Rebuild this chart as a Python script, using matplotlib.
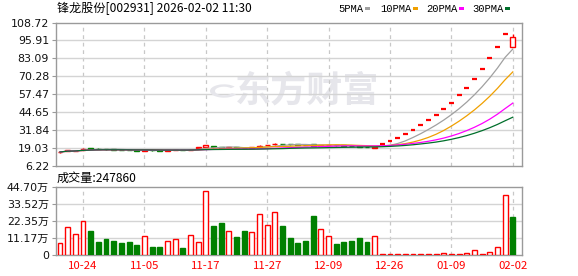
import numpy as np
import pandas as pd
import matplotlib
matplotlib.use('Agg')
import matplotlib.pyplot as plt
from matplotlib.patches import Rectangle, Wedge

# ---------------- data ----------------
title = "锋龙股份[002931] 2026-02-02 11:30"
opens = [15.6, 16.9, 16.7, 17.5, 18.6, 18.3, 18.0, 17.7, 17.5, 17.3,
         17.1, 16.9, 17.3, 17.0, 16.8, 17.1, 17.4, 17.3, 19.1, 19.3,
         20.3, 19.4, 18.9, 19.2, 18.9, 18.9, 19.7, 20.7, 21.5, 21.8,
         21.5, 21.3, 21.1, 21.4, 20.4, 20.8, 21.0, 20.6, 20.3, 20.0,
         19.6, 18.6, 21.4, 23.5, 26.2, 28.7, 31.8, 35.0, 38.5, 42.2,
         46.4, 51.2, 56.4, 62.1, 68.5, 75.2, 83.0, 91.4, 100.6, 90.9]
closes = [15.9, 17.1, 16.9, 18.4, 18.3, 18.0, 17.7, 17.5, 17.3, 17.1,
          16.9, 17.4, 17.0, 16.8, 17.1, 17.4, 17.2, 17.6, 19.4, 20.8,
          19.3, 18.9, 19.2, 18.9, 18.6, 19.2, 19.9, 20.9, 21.7, 21.5,
          21.3, 21.1, 20.9, 20.4, 20.9, 21.2, 20.6, 20.3, 20.0, 19.6,
          19.3, 19.5, 21.4, 23.5, 26.2, 28.7, 31.8, 35.0, 38.5, 42.2,
          46.4, 51.2, 56.4, 62.1, 68.5, 75.2, 83.0, 91.4, 100.6, 98.1]
highs = [16.3, 17.2, 17.0, 18.5, 18.7, 18.6, 18.1, 17.8, 17.6, 17.4,
         17.2, 17.5, 17.4, 17.1, 17.2, 17.5, 17.5, 17.7, 19.6, 21.0,
         20.5, 19.6, 19.4, 19.3, 19.0, 19.3, 20.6, 21.0, 22.6, 21.9,
         21.6, 21.4, 21.2, 21.6, 21.0, 21.3, 21.1, 20.7, 20.4, 20.1,
         19.7, 19.6, 21.4, 23.5, 26.2, 28.7, 31.8, 35.0, 38.5, 42.2,
         46.4, 51.2, 56.4, 62.1, 68.5, 75.2, 83.0, 91.4, 100.6, 100.5]
lows = [15.4, 16.8, 16.6, 17.4, 18.2, 17.9, 17.6, 17.4, 17.2, 17.0,
        16.8, 16.8, 16.9, 16.7, 16.7, 17.0, 17.1, 17.2, 19.0, 19.2,
        19.1, 18.8, 18.8, 18.8, 18.5, 18.8, 19.3, 20.6, 20.9, 21.4,
        21.2, 21.0, 20.8, 20.3, 20.3, 20.7, 20.5, 20.2, 19.9, 19.5,
        19.2, 18.5, 21.4, 23.5, 26.2, 28.7, 31.8, 35.0, 38.5, 42.2,
        46.4, 51.2, 56.4, 62.1, 68.5, 75.2, 83.0, 91.4, 100.6, 90.9]
volumes = [77000, 182000, 136000, 221000, 158000, 85000, 105000, 92000, 79000, 85000,
           66000, 123000, 53000, 53000, 90000, 103000, 46000, 129000, 85000, 419000,
           191000, 213000, 158000, 118000, 158000, 151000, 270000, 197000, 283000, 191000,
           112000, 79000, 92000, 256000, 169000, 123000, 72000, 85000, 92000, 112000,
           85000, 123000, 4000, 4000, 4000, 4000, 4000, 4000, 4000, 4000,
           11000, 4000, 4000, 11000, 33000, 4000, 20000, 50000, 394000, 247860]
vol_up = [1, 1, 1, 1, 0, 0, 0, 0, 0, 0,
          0, 1, 0, 0, 1, 1, 0, 1, 1, 1,
          0, 0, 1, 0, 0, 1, 1, 1, 1, 0,
          0, 0, 0, 0, 1, 1, 0, 0, 0, 0,
          0, 1, 1, 1, 1, 1, 1, 1, 1, 1,
          1, 1, 1, 1, 1, 1, 1, 1, 1, 0]
tick_idx = [3, 11, 19, 27, 35, 43, 51, 59]
tick_labels = ["10-24", "11-05", "11-17", "11-27", "12-09", "12-26", "01-09", "02-02"]
price_ticks = [6.22, 19.03, 31.84, 44.65, 57.47, 70.28, 83.09, 95.91, 108.72]
vol_ticks = [0, 111750, 223500, 335250, 447000]
vol_tick_labels = ["0", "11.17万", "22.35万", "33.52万", "44.70万"]
ma_periods = [5, 10, 20, 30]
ma_names = ["5PMA", "10PMA", "20PMA", "30PMA"]
ma_colors = ["#a0a0a0", "#f0a000", "#ff00ff", "#006f2b"]
last_vol_label = "成交量:247860"

# ---------------- figure ----------------
W, H = 578, 276
fig = plt.figure(figsize=(W / 100, H / 100), dpi=100)
fig.patch.set_facecolor('white')

def px_axes(x0, y0, x1, y1):
    return fig.add_axes([x0 / W, 1 - y1 / H, (x1 - x0) / W, (y1 - y0) / H])

ax = px_axes(56, 22.5, 522, 165.5)
axv = px_axes(56, 187, 522, 255)

RED = "#ff0000"
GREEN = "#008000"
GRID = "#d4d4d4"
VGRID = "#c8c8c8"
BORDER = "#9a9a9a"
WM = "#e6e6eb"
CJK = ['Noto Sans CJK SC', 'DejaVu Sans']
NUM = ['DejaVu Sans', 'Noto Sans CJK SC']

n = len(closes)
x = np.arange(n)
xlim = (-0.52, 60.2)

for a in (ax, axv):
    a.set_xlim(*xlim)
    for s in a.spines.values():
        s.set_color(BORDER)
        s.set_linewidth(1)
    for t in tick_idx:
        a.axvline(t, color=VGRID, lw=0.9, ls=(0, (3, 3)), zorder=1)

# watermark (logo ring + text)
fig.patches.append(Wedge((224 / W, 1 - 91 / H), 14 / W, 40, 330, width=5 / W,
                         transform=fig.transFigure, facecolor=WM, edgecolor='none', zorder=0))
ax.text(0.54, 0.52, "东方财富", transform=ax.transAxes, ha='center', va='center',
        fontsize=26, fontweight='bold', color=WM, family=CJK, zorder=0)

# price panel
ax.set_facecolor('none')
ax.set_ylim(price_ticks[0], price_ticks[-1])
ax.set_yticks(price_ticks)
ax.set_yticklabels([f"{v:.2f}" for v in price_ticks], fontsize=7.9, color='#111111', family=NUM)
for v in price_ticks[1:-1]:
    ax.axhline(v, color=GRID, lw=1, zorder=1)
ax.tick_params(axis='y', length=3, color=BORDER, pad=2)
ax.tick_params(axis='x', length=0, labelbottom=False)

bw = 0.64
for i in range(n):
    o, c, h, l = opens[i], closes[i], highs[i], lows[i]
    up = c >= o
    col = RED if up else GREEN
    if h > l:
        ax.vlines(i, l, h, color=col, lw=1, zorder=3)
    if abs(c - o) > 1e-9:
        ax.bar(i, abs(c - o), bottom=min(o, c), width=bw,
               facecolor='white' if up else GREEN, edgecolor=col, lw=1, zorder=4)
    else:
        ax.hlines(c, i - bw / 2, i + bw / 2, color=col, lw=1.6, zorder=4)

cs = pd.Series(closes)
for p, colr in zip(ma_periods, ma_colors):
    ma = cs.rolling(p, min_periods=1).mean()
    ax.plot(x, ma.values, color=colr, lw=0.9, zorder=5)

# volume panel
axv.set_ylim(0, vol_ticks[-1])
axv.set_yticks(vol_ticks)
axv.set_yticklabels(vol_tick_labels, fontsize=7.9, color='#111111', family=NUM)
for v in vol_ticks[1:-1]:
    axv.axhline(v, color=GRID, lw=1, zorder=1)
axv.tick_params(axis='y', length=3, color=BORDER, pad=2)
axv.set_xticks(tick_idx)
axv.set_xticklabels(tick_labels, fontsize=8.2, color=RED, family=CJK)
axv.tick_params(axis='x', length=0, pad=4)

for i in range(n):
    if vol_up[i]:
        axv.bar(i, volumes[i], width=bw, facecolor='white', edgecolor=RED, lw=1, zorder=3)
    else:
        axv.bar(i, volumes[i], width=bw, facecolor=GREEN, edgecolor=GREEN, lw=1, zorder=3)

# texts
fig.text(57 / W, 1 - 8.5 / H, title, ha='left', va='center', fontsize=8.7, family=CJK, color='#000000')
fig.text(57 / W, 1 - 178 / H, last_vol_label, ha='left', va='center', fontsize=8.7, family=CJK, color='#000000')

leg_x = [338, 380, 426, 472]
for name, lx in zip(ma_names, leg_x):
    fig.text(lx / W, 1 - 8.5 / H, name, ha='left', va='center', fontsize=7.6,
             family='Liberation Mono', color='#000000')
leg_sq = [365, 413, 459, 505]
for colr, sx in zip(ma_colors, leg_sq):
    fig.patches.append(Rectangle((sx / W, 1 - 10 / H), 5 / W, 3 / H, transform=fig.transFigure,
                                 facecolor=colr, edgecolor='none'))

fig.savefig('out.png', dpi=100, facecolor='white')
